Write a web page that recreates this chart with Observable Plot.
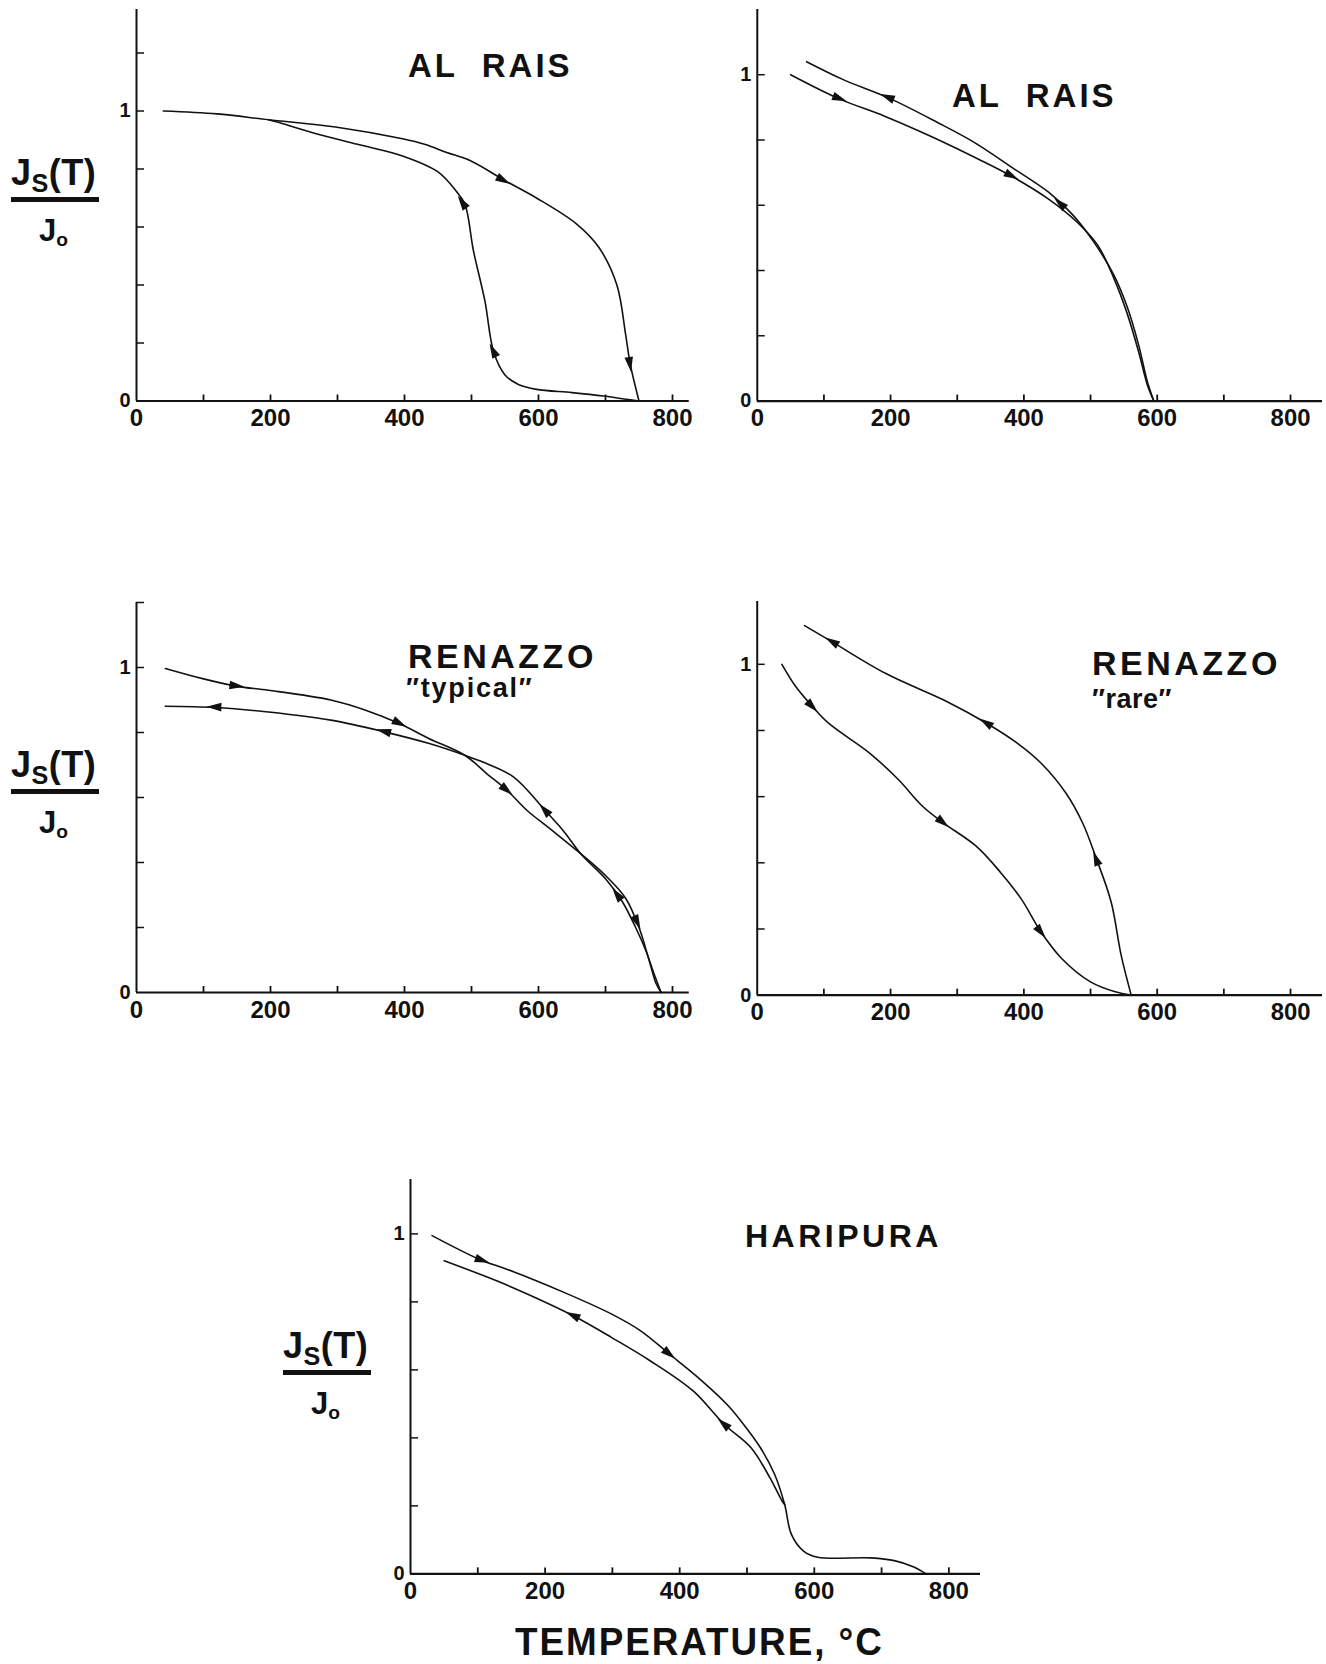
<!DOCTYPE html>
<html>
<head>
<meta charset="utf-8">
<script src="https://cdn.jsdelivr.net/npm/d3@7"></script>
<script src="https://cdn.jsdelivr.net/npm/@observablehq/plot@0.6"></script>
<style>
  html, body { margin: 0; padding: 0; background: #fff; }
  #page { position: relative; width: 1326px; height: 1664px; overflow: hidden; background: #fff;
          font-family: "Liberation Sans", Arial, Helvetica, sans-serif; color: #111; }
  .panel { position: absolute; }
  .panel svg text { font-weight: bold; font-family: "Liberation Sans", Arial, sans-serif; fill: #111; }
  .t { position: absolute; font-weight: bold; line-height: 1; white-space: pre; color: #111; }
  .bar { position: absolute; background: #111; }
  sub { font-size: 0.62em; vertical-align: -0.28em; }
  .num sub { font-size: 0.7em; }
</style>
</head>
<body>
<div id="page"></div>
<script>
// ---------- shared axis values ----------
const xTickLabels = [0, 200, 400, 600, 800];
const xMinorTicks = [100, 200, 300, 400, 500, 600, 700, 800];
const yTickLabels = [0, 1];

// ---------- AL RAIS (top left) ----------
const alRaisA_heatT = [40, 120, 197, 297, 397, 430, 463, 497, 550, 597, 657, 690, 717, 730, 737, 750];
const alRaisA_heatJ = [1.0, 0.99, 0.97, 0.945, 0.904, 0.885, 0.857, 0.83, 0.76, 0.70, 0.61, 0.53, 0.40, 0.23, 0.126, 0.0];
const alRaisA_coolT = [750, 730, 697, 650, 597, 570, 550, 533, 520, 503, 490, 477, 450, 397, 330, 263, 210, 197];
const alRaisA_coolJ = [0.0, 0.006, 0.017, 0.029, 0.04, 0.057, 0.09, 0.17, 0.345, 0.517, 0.68, 0.724, 0.79, 0.845, 0.885, 0.925, 0.962, 0.97];
const alRaisA_heatArrowT = [548, 737];
const alRaisA_heatArrowJ = [0.76, 0.126];
const alRaisA_coolArrowT = [533, 487];
const alRaisA_coolArrowJ = [0.172, 0.683];
const alRaisA_yTicks = [0.2, 0.4, 0.6, 0.8, 1.0, 1.2];

// ---------- AL RAIS (top right) ----------
const alRaisB_heatT = [50, 123, 191, 265, 332, 385, 437, 480, 511, 535, 554, 572, 585, 595];
const alRaisB_heatJ = [1.0, 0.926, 0.873, 0.807, 0.741, 0.685, 0.619, 0.548, 0.477, 0.376, 0.274, 0.152, 0.051, 0.0];
const alRaisB_coolT = [595, 585, 572, 554, 535, 505, 474, 437, 382, 326, 271, 197, 129, 74];
const alRaisB_coolJ = [0.0, 0.061, 0.173, 0.294, 0.386, 0.487, 0.569, 0.64, 0.716, 0.792, 0.853, 0.929, 0.985, 1.04];
const alRaisB_heatArrowT = [124, 382];
const alRaisB_heatArrowJ = [0.926, 0.689];
const alRaisB_coolArrowT = [196, 455];
const alRaisB_coolArrowJ = [0.93, 0.604];
const alRaisB_yTicks = [0.2, 0.4, 0.6, 0.8, 1.0];

// ---------- RENAZZO "typical" ----------
const renTyp_heatT = [43, 100, 150, 197, 290, 343, 393, 437, 490, 523, 553, 583, 617, 663, 700, 730, 750, 765, 775, 783];
const renTyp_heatJ = [0.997, 0.965, 0.942, 0.93, 0.9, 0.868, 0.827, 0.781, 0.73, 0.673, 0.622, 0.56, 0.504, 0.427, 0.36, 0.29, 0.2, 0.1, 0.03, 0.0];
const renTyp_coolT = [783, 772, 760, 745, 725, 700, 663, 637, 610, 563, 517, 490, 437, 370, 290, 197, 117, 43];
const renTyp_coolJ = [0.0, 0.06, 0.13, 0.2, 0.28, 0.35, 0.427, 0.498, 0.56, 0.663, 0.709, 0.73, 0.766, 0.802, 0.838, 0.863, 0.877, 0.881];
const renTyp_heatArrowT = [150, 393, 553, 748];
const renTyp_heatArrowJ = [0.942, 0.827, 0.622, 0.215];
const renTyp_coolArrowT = [117, 370, 610, 718];
const renTyp_coolArrowJ = [0.877, 0.802, 0.56, 0.30];
const renTyp_yTicks = [0.2, 0.4, 0.6, 0.8, 1.0, 1.2];

// ---------- RENAZZO "rare" ----------
const renRare_heatT = [37, 58, 83, 107, 169, 212, 248, 279, 328, 365, 396, 426, 457, 500, 537, 561];
const renRare_heatJ = [1.0, 0.932, 0.872, 0.822, 0.731, 0.651, 0.571, 0.521, 0.451, 0.371, 0.291, 0.19, 0.11, 0.04, 0.01, 0.0];
const renRare_coolT = [561, 546, 531, 509, 488, 463, 426, 390, 344, 285, 193, 113, 71];
const renRare_coolJ = [0.0, 0.12, 0.281, 0.411, 0.521, 0.611, 0.701, 0.762, 0.822, 0.887, 0.972, 1.067, 1.117];
const renRare_heatArrowT = [83, 279, 426];
const renRare_heatArrowJ = [0.872, 0.521, 0.19];
const renRare_coolArrowT = [509, 344, 113];
const renRare_coolArrowJ = [0.411, 0.822, 1.067];
const renRare_yTicks = [0.2, 0.4, 0.6, 0.8, 1.0];

// ---------- HARIPURA ----------
const hari_heatT = [32, 107, 142, 228, 299, 342, 385, 427, 470, 491, 520, 541, 556, 566, 584, 605, 684, 719, 748, 766];
const hari_heatJ = [0.995, 0.921, 0.897, 0.828, 0.764, 0.715, 0.646, 0.578, 0.499, 0.45, 0.371, 0.293, 0.204, 0.116, 0.067, 0.049, 0.047, 0.039, 0.02, 0.0];
const hari_coolT = [556, 552, 534, 506, 466, 420, 356, 299, 242, 185, 128, 50];
const hari_coolJ = [0.204, 0.215, 0.283, 0.371, 0.44, 0.538, 0.627, 0.695, 0.759, 0.813, 0.862, 0.921];
const hari_heatArrowT = [107, 385];
const hari_heatArrowJ = [0.921, 0.646];
const hari_coolArrowT = [242, 466];
const hari_coolArrowJ = [0.759, 0.44];
const hari_yTicks = [0.2, 0.4, 0.6, 0.8, 1.0];

// ---------- layout (pixels) ----------
const panels = [
  {ox: 136, oy: 400, kx: 0.67, ky: 290, xmax: 825, ymax: 1.35,
   heatT: alRaisA_heatT, heatJ: alRaisA_heatJ, coolT: alRaisA_coolT, coolJ: alRaisA_coolJ,
   haT: alRaisA_heatArrowT, haJ: alRaisA_heatArrowJ, caT: alRaisA_coolArrowT, caJ: alRaisA_coolArrowJ, yTicks: alRaisA_yTicks},
  {ox: 757, oy: 403, kx: 0.67, ky: 328, xmax: 848, ymax: 1.2,
   heatT: alRaisB_heatT, heatJ: alRaisB_heatJ, coolT: alRaisB_coolT, coolJ: alRaisB_coolJ,
   haT: alRaisB_heatArrowT, haJ: alRaisB_heatArrowJ, caT: alRaisB_coolArrowT, caJ: alRaisB_coolArrowJ, yTicks: alRaisB_yTicks},
  {ox: 136, oy: 992, kx: 0.67, ky: 325, xmax: 825, ymax: 1.2,
   heatT: renTyp_heatT, heatJ: renTyp_heatJ, coolT: renTyp_coolT, coolJ: renTyp_coolJ,
   haT: renTyp_heatArrowT, haJ: renTyp_heatArrowJ, caT: renTyp_coolArrowT, caJ: renTyp_coolArrowJ, yTicks: renTyp_yTicks},
  {ox: 757, oy: 997, kx: 0.671, ky: 333, xmax: 848, ymax: 1.19,
   heatT: renRare_heatT, heatJ: renRare_heatJ, coolT: renRare_coolT, coolJ: renRare_coolJ,
   haT: renRare_heatArrowT, haJ: renRare_heatArrowJ, caT: renRare_coolArrowT, caJ: renRare_coolArrowJ, yTicks: renRare_yTicks},
  {ox: 410, oy: 1573, kx: 0.673, ky: 340, xmax: 847, ymax: 1.16,
   heatT: hari_heatT, heatJ: hari_heatJ, coolT: hari_coolT, coolJ: hari_coolJ,
   haT: hari_heatArrowT, haJ: hari_heatArrowJ, caT: hari_coolArrowT, caJ: hari_coolArrowJ, yTicks: hari_yTicks}
];

const page = document.getElementById("page");
const ML = 44, MR = 4, MT = 6, MB = 44;

function toRows(T, J) { return T.map((t, i) => ({T: t, J: J[i]})); }

// Filled arrowheads placed on a curve, oriented along the curve's traversal order
function arrowMark(arrowRows, curveRows, cfg) {
  return (index, scales) => {
    const sx = scales && scales.x ? scales.x : (t) => ML + t * cfg.kx;
    const sy = scales && scales.y ? scales.y : (j) => MT + (cfg.ymax - j) * cfg.ky;
    const pts = curveRows.map(d => [sx(d.T), sy(d.J)]);
    const g = d3.create("svg:g").attr("fill", "#111");
    for (const a of arrowRows) {
      const px = sx(a.T), py = sy(a.J);
      let best = 0, bestD = Infinity;
      for (let i = 0; i < pts.length - 1; i++) {
        const mx = (pts[i][0] + pts[i + 1][0]) / 2, my = (pts[i][1] + pts[i + 1][1]) / 2;
        const dd = (mx - px) ** 2 + (my - py) ** 2;
        if (dd < bestD) { bestD = dd; best = i; }
      }
      const ang = Math.atan2(pts[best + 1][1] - pts[best][1], pts[best + 1][0] - pts[best][0]) * 180 / Math.PI;
      g.append("path")
        .attr("d", "M8,0L-7,-4.3L-7,4.3Z")
        .attr("transform", `translate(${px},${py}) rotate(${ang})`);
    }
    return g.node();
  };
}

panels.forEach(cfg => {
  const w = cfg.kx * cfg.xmax, h = cfg.ky * cfg.ymax;
  const heat = toRows(cfg.heatT, cfg.heatJ);
  const cool = toRows(cfg.coolT, cfg.coolJ);
  const plot = Plot.plot({
    width: w + ML + MR, height: h + MT + MB,
    marginLeft: ML, marginRight: MR, marginTop: MT, marginBottom: MB,
    x: {domain: [0, cfg.xmax]},
    y: {domain: [0, cfg.ymax]},
    style: {background: "transparent", overflow: "visible", color: "#111"},
    marks: [
      Plot.ruleY([0], {x1: 0, x2: cfg.xmax, stroke: "#111", strokeWidth: 2.2}),
      Plot.ruleX([0], {y1: 0, y2: cfg.ymax, stroke: "#111", strokeWidth: 2}),
      Plot.ruleX(xMinorTicks, {x: d => d, y1: 0, y2: 6 / cfg.ky, stroke: "#111", strokeWidth: 1.8}),
      Plot.ruleY(cfg.yTicks, {y: d => d, x1: 0, x2: 8 / cfg.kx, stroke: "#111", strokeWidth: 1.5}),
      Plot.axisX(xTickLabels, {tickSize: 0, tickPadding: 8, fontSize: 24, fontWeight: "bold", label: null, tickFormat: d3.format("d")}),
      Plot.axisY(yTickLabels, {tickSize: 0, tickPadding: 6, fontSize: 20, fontWeight: "bold", label: null, tickFormat: d3.format("d")}),
      Plot.line(heat, {x: "T", y: "J", curve: "catmull-rom", stroke: "#111", strokeWidth: 1.6}),
      Plot.line(cool, {x: "T", y: "J", curve: "catmull-rom", stroke: "#111", strokeWidth: 1.6}),
      arrowMark(toRows(cfg.haT, cfg.haJ), heat, cfg),
      arrowMark(toRows(cfg.caT, cfg.caJ), cool, cfg)
    ]
  });
  const div = document.createElement("div");
  div.className = "panel";
  div.style.left = (cfg.ox - ML) + "px";
  div.style.top = (cfg.oy - h - MT) + "px";
  div.appendChild(plot);
  page.appendChild(div);
});

// ---------- text ----------
function addText(html, left, baseline, fs, extra, cls) {
  const d = document.createElement("div");
  d.className = "t" + (cls ? " " + cls : "");
  d.innerHTML = html;
  d.style.left = left + "px";
  d.style.top = (baseline - 0.847 * fs) + "px";
  d.style.fontSize = fs + "px";
  if (extra) Object.assign(d.style, extra);
  page.appendChild(d);
  return d;
}
function addFraction(left, barTop) {
  addText("J<sub>S</sub>(T)", left, barTop - 12, 36, {letterSpacing: "0.5px"}, "num");
  const b = document.createElement("div");
  b.className = "bar";
  Object.assign(b.style, {left: left + "px", top: barTop + "px", width: "88px", height: "4.5px"});
  page.appendChild(b);
  addText("J<sub>o</sub>", left + 28, barTop + 44, 31);
}

addText("AL  RAIS", 408, 77, 33, {letterSpacing: "3px"});
addText("AL  RAIS", 952, 107, 33, {letterSpacing: "3px"});
addText("RENAZZO", 408, 668, 34, {letterSpacing: "3.5px"});
addText("\u2033typical\u2033", 406, 698, 27, {letterSpacing: "1.8px"});
addText("RENAZZO", 1092, 675, 34, {letterSpacing: "3.5px"});
addText("\u2033rare\u2033", 1092, 709, 27, {letterSpacing: "0.5px"});
addText("HARIPURA", 745, 1247, 32, {letterSpacing: "3.5px"});
addText("TEMPERATURE, \u00B0C", 515, 1655, 38, {letterSpacing: "2px", transform: "scaleX(0.97)", transformOrigin: "0 0"});

addFraction(11, 197);
addFraction(11, 789);
addFraction(283, 1370);
</script>
</body>
</html>
